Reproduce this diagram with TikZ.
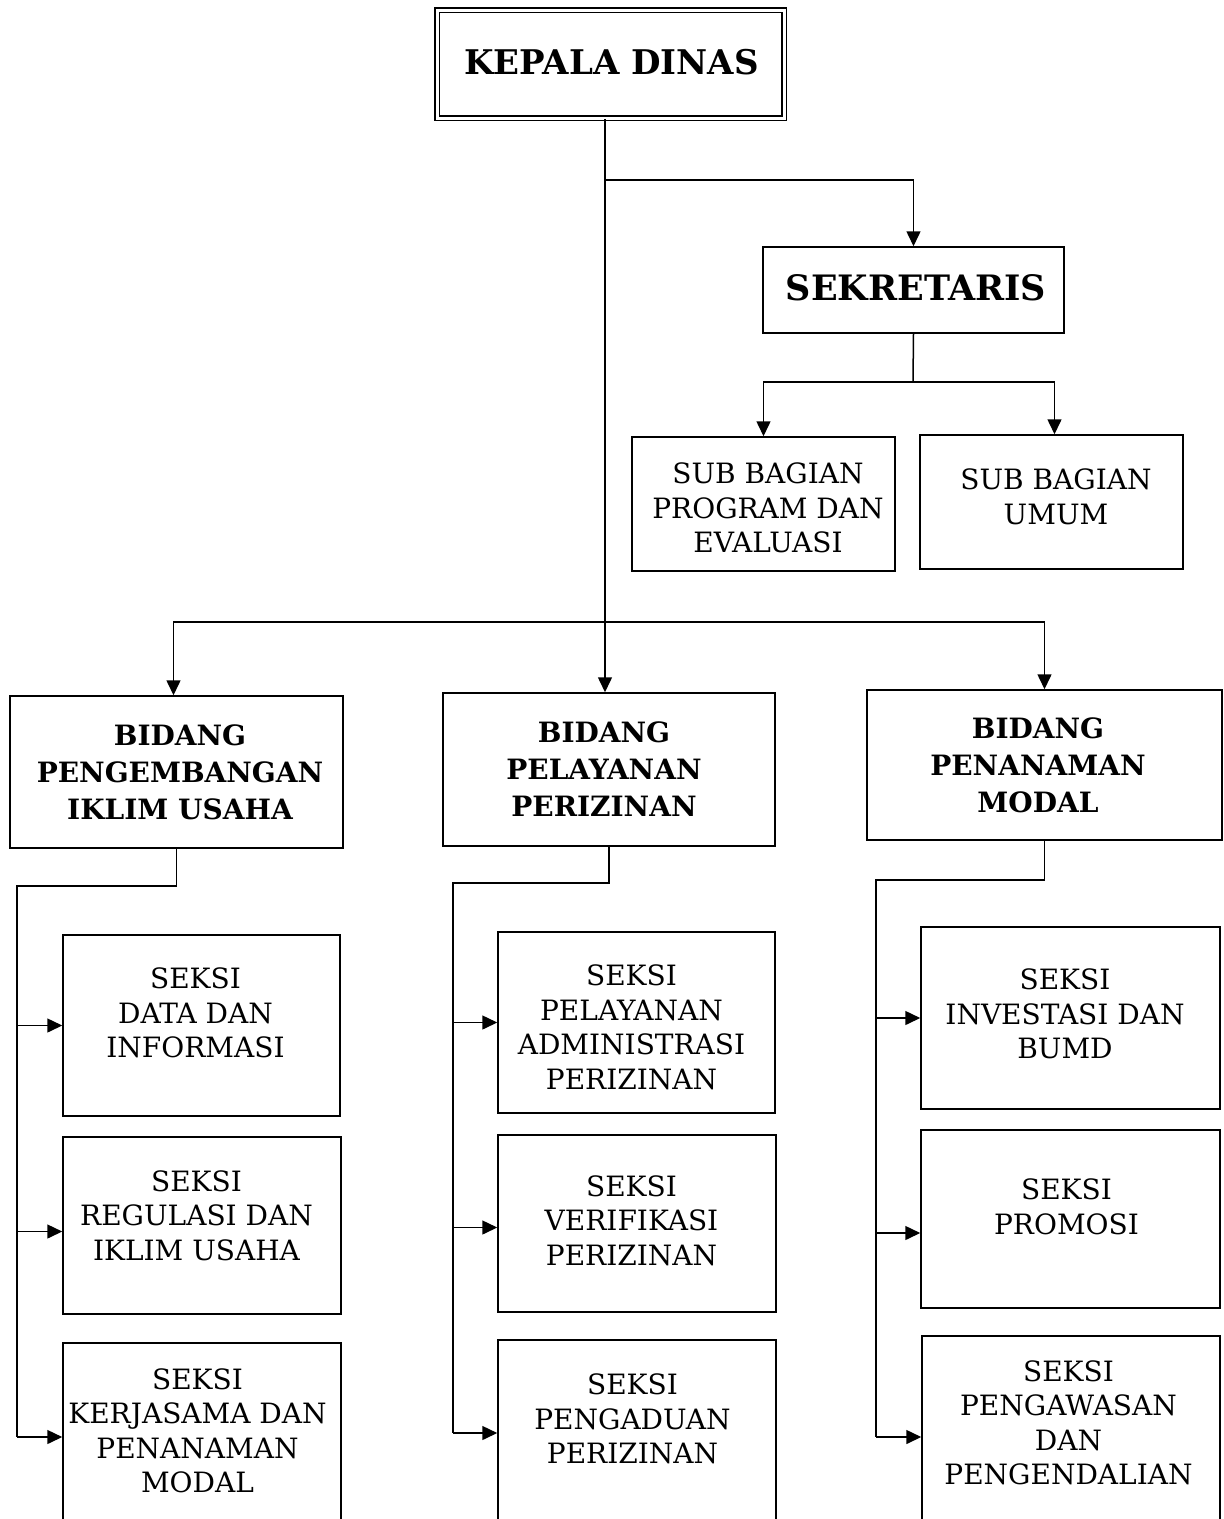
\documentclass[tikz,border=0pt]{standalone}
\usepackage{fontspec}
\setmainfont{DejaVu Serif}
\usetikzlibrary{arrows.meta}
\tikzset{
  box/.style={draw, line width=1.5pt, inner sep=0pt},
  rt/.style={align=center, inner sep=0pt, font=\fontsize{28}{34.5}\selectfont},
  bt/.style={align=center, inner sep=0pt, font=\fontsize{28}{37}\bfseries\selectfont},
  ln/.style={line width=1.5pt},
  arr/.style={ln, -{Triangle[length=15pt,width=14pt]}},
}
% name, box style, text style, x1, y1, x2, y2, text
\newcommand{\boxat}[8]{%
  \node[#2, minimum width={#6-#4}, minimum height={#7-#5},
        label={[#3]center:{#8}}] (#1) at ({(#4+#6)/2},{(#5+#7)/2}) {};}
\begin{document}
\begin{tikzpicture}[x=1pt,y=-1pt]
\clip (0,0) rectangle (1224,1519);
\useasboundingbox (0,0) rectangle (1224,1519);
\fill[white] (0,0) rectangle (1224,1519);

% top
\boxat{kd}{box, double, double distance=3pt, line width=1.6pt}{bt, font=\fontsize{34}{38}\bfseries\selectfont, xshift=1pt, yshift=2pt}{437}{10}{784}{118}{KEPALA DINAS}
\boxat{sek}{box}{bt, font=\fontsize{35}{38}\bfseries\selectfont, xshift=2.5pt, yshift=2pt}{763}{247}{1064}{333}{SEKRETARIS}
\boxat{sb1}{box}{rt, xshift=4.5pt, yshift=-4pt}{632}{437}{895}{571}{SUB BAGIAN\\PROGRAM DAN\\EVALUASI}
\boxat{sb2}{box}{rt, xshift=4.5pt, yshift=5pt}{920}{435}{1183}{569}{SUB BAGIAN\\UMUM}

% bidang
\boxat{b1}{box}{bt, xshift=3.5pt}{10}{696}{343}{848}{BIDANG\\PENGEMBANGAN\\IKLIM USAHA}
\boxat{b2}{box}{bt, xshift=-5pt}{443}{693}{775}{846}{BIDANG\\PELAYANAN\\PERIZINAN}
\boxat{b3}{box}{bt, xshift=-6.5pt}{867}{690}{1222}{840}{BIDANG\\PENANAMAN\\MODAL}

% seksi left
\boxat{s11}{box}{rt, xshift=-6pt, yshift=12.5pt}{63}{935}{340}{1116}{SEKSI\\DATA DAN\\INFORMASI}
\boxat{s12}{box}{rt, xshift=-5.5pt, yshift=10pt}{63}{1137}{341}{1314}{SEKSI\\REGULASI DAN\\IKLIM USAHA}
\boxat{s13}{box}{rt, xshift=-4.5pt, yshift=6pt}{63}{1343}{341}{1531}{SEKSI\\KERJASAMA DAN\\PENANAMAN\\MODAL}
% seksi middle
\boxat{s21}{box}{rt, xshift=-5pt, yshift=-5pt}{498}{932}{775}{1113}{SEKSI\\PELAYANAN\\ADMINISTRASI\\PERIZINAN}
\boxat{s22}{box}{rt, xshift=-5.5pt, yshift=3pt}{498}{1135}{776}{1312}{SEKSI\\VERIFIKASI\\PERIZINAN}
\boxat{s23}{box}{rt, xshift=-4.5pt, yshift=14pt}{498}{1340}{776}{1526}{SEKSI\\PENGADUAN\\PERIZINAN}
% seksi right
\boxat{s31}{box}{rt, xshift=-5.5pt, yshift=4pt}{921}{927}{1220}{1109}{SEKSI\\INVESTASI DAN\\BUMD}
\boxat{s32}{box}{rt, xshift=-4pt, yshift=12pt}{921}{1130}{1220}{1308}{SEKSI\\PROMOSI}
\boxat{s33}{box}{rt, xshift=-2.5pt, yshift=14pt}{922}{1336}{1220}{1538}{SEKSI\\PENGAWASAN\\DAN\\PENGENDALIAN}

% junction coordinates
\coordinate (j1) at (605,180);
\coordinate (j2) at (913,382);
\coordinate (j3) at (605,622);
\coordinate (L0) at (17,886);
\coordinate (L1) at (17,1437);
\coordinate (M0) at (453,883);
\coordinate (M1) at (453,1433);
\coordinate (R0) at (876,880);
\coordinate (R1) at (876,1437);

% connectors top
\draw[arr] (kd.south -| j1) -- (b2.north -| j1);
\draw[arr] (j1) -| (sek.north);
\draw[ln] (sek.south) -- (j2);
\draw[arr] (j2) -| (sb1.north);
\draw[arr] (j2) -| ([xshift=3pt]sb2.north);
\draw[arr] (j3) -| ([xshift=-3pt]b1.north);
\draw[arr] (j3) -| (b3.north);

% left column
\draw[ln] (b1.south) |- (L0) -- (L1);
\draw[arr] (s11.west -| L0) -- (s11.west);
\draw[arr] ([yshift=-6pt]s12.west -| L0) -- ([yshift=-6pt]s12.west);
\draw[arr] (L1) -- (L1 -| s13.west);
% middle column
\draw[ln] (b2.south) |- (M0) -- (M1);
\draw[arr] (s21.west -| M0) -- (s21.west);
\draw[arr] ([yshift=-4pt]s22.west -| M0) -- ([yshift=-4pt]s22.west);
\draw[arr] (M1) -- (M1 -| s23.west);
% right column
\draw[ln] (b3.south) |- (R0) -- (R1);
\draw[arr] (s31.west -| R0) -- (s31.west);
\draw[arr] ([yshift=-14pt]s32.west -| R0) -- ([yshift=-14pt]s32.west);
\draw[arr] (R1) -- (R1 -| s33.west);
\end{tikzpicture}
\end{document}
